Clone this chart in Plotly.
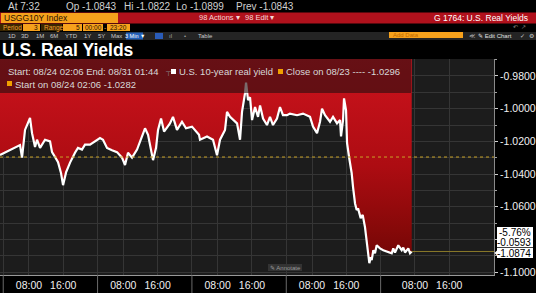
import plotly.graph_objects as go
import pandas as pd

# ---------------- data ----------------
times = [
    "2021-08-23 23:15", "2021-08-24 05:55", "2021-08-24 06:23", "2021-08-24 07:05", "2021-08-24 08:15",
    "2021-08-24 08:43", "2021-08-24 09:25", "2021-08-24 09:53", "2021-08-24 10:35", "2021-08-24 11:45",
    "2021-08-24 12:55", "2021-08-24 13:23", "2021-08-24 14:05", "2021-08-24 14:47", "2021-08-24 15:29",
    "2021-08-24 15:57", "2021-08-24 16:39", "2021-08-24 17:35", "2021-08-24 18:44", "2021-08-24 19:26",
    "2021-08-24 20:22", "2021-08-24 21:04", "2021-08-24 22:14", "2021-08-24 23:24",
    "2021-08-25 02:34", "2021-08-25 03:16", "2021-08-25 04:12", "2021-08-25 05:22", "2021-08-25 06:32",
    "2021-08-25 07:42", "2021-08-25 08:24", "2021-08-25 09:06", "2021-08-25 10:02", "2021-08-25 11:12",
    "2021-08-25 12:22", "2021-08-25 13:04", "2021-08-25 13:46", "2021-08-25 14:28", "2021-08-25 14:56",
    "2021-08-25 15:38", "2021-08-25 16:06", "2021-08-25 16:48", "2021-08-25 17:30", "2021-08-25 18:53",
    "2021-08-25 19:35", "2021-08-25 20:31", "2021-08-25 21:41", "2021-08-25 22:37",
    "2021-08-26 02:01", "2021-08-26 03:39", "2021-08-26 03:53", "2021-08-26 05:31", "2021-08-26 06:55",
    "2021-08-26 07:51", "2021-08-26 08:33", "2021-08-26 09:43", "2021-08-26 10:11", "2021-08-26 10:53",
    "2021-08-26 11:35", "2021-08-26 12:31", "2021-08-26 13:13", "2021-08-26 13:41", "2021-08-26 14:23",
    "2021-08-26 14:37", "2021-08-26 15:05", "2021-08-26 15:33", "2021-08-26 16:01", "2021-08-26 16:43",
    "2021-08-26 17:25", "2021-08-26 17:53", "2021-08-26 18:35", "2021-08-26 19:30", "2021-08-26 20:12",
    "2021-08-26 20:54", "2021-08-26 21:50", "2021-08-26 22:32", "2021-08-26 23:14",
    "2021-08-27 02:10", "2021-08-27 02:52", "2021-08-27 04:30", "2021-08-27 05:54", "2021-08-27 07:32",
    "2021-08-27 08:14", "2021-08-27 09:10", "2021-08-27 09:52", "2021-08-27 10:20", "2021-08-27 11:02",
    "2021-08-27 12:12", "2021-08-27 12:54", "2021-08-27 13:50", "2021-08-27 14:32", "2021-08-27 14:46",
    "2021-08-27 15:14", "2021-08-27 15:28", "2021-08-27 15:56", "2021-08-27 16:10", "2021-08-27 16:38",
    "2021-08-27 17:15", "2021-08-27 17:34", "2021-08-27 18:02", "2021-08-27 18:25", "2021-08-27 18:44",
    "2021-08-27 19:21", "2021-08-27 19:49", "2021-08-27 20:21", "2021-08-27 20:45", "2021-08-27 21:08",
    "2021-08-27 21:22", "2021-08-27 21:41", "2021-08-27 21:55", "2021-08-27 22:18", "2021-08-27 22:41",
    "2021-08-27 23:05", "2021-08-27 23:51",
    "2021-08-29 22:37", "2021-08-29 23:47",
    "2021-08-30 02:35", "2021-08-30 02:57", "2021-08-30 03:21", "2021-08-30 04:07", "2021-08-30 04:31",
    "2021-08-30 04:55", "2021-08-30 05:17", "2021-08-30 05:41", "2021-08-30 06:27", "2021-08-30 06:51",
    "2021-08-30 07:15",
]
yields = [
    -1.0284, -1.0223, -1.0300, -1.0130, -1.0057, -1.0150, -1.0235, -1.0190, -1.0240, -1.0190,
    -1.0200, -1.0266, -1.0296, -1.0327, -1.0395, -1.0468, -1.0390, -1.0330, -1.0270, -1.0240,
    -1.0250, -1.0220, -1.0220, -1.0200,
    -1.0180, -1.0190, -1.0240, -1.0255, -1.0266, -1.0300, -1.0345, -1.0270, -1.0300, -1.0250,
    -1.0170, -1.0120, -1.0160, -1.0250, -1.0315, -1.0240, -1.0130, -1.0060, -1.0140, -1.0090,
    -1.0050, -1.0130, -1.0080, -1.0120,
    -1.0110, -1.0160, -1.0190, -1.0170, -1.0190, -1.0285, -1.0190, -1.0130, -1.0020, -1.0050,
    -1.0070, -1.0090, -1.0190, -1.0020, -0.9905, -0.9840, -0.9947, -0.9930, -1.0070, -0.9990,
    -1.0050, -0.9980, -1.0060, -1.0100, -1.0050, -1.0100, -1.0060, -0.9990, -1.0040,
    -1.0040, -1.0030, -1.0040, -1.0030, -1.0050, -1.0110, -1.0150, -1.0080, -1.0000, -1.0040,
    -1.0080, -1.0050, -1.0090, -1.0070, -1.0170, -1.0070, -0.9937, -1.0010, -1.0210, -1.0296,
    -1.0395, -1.0480, -1.0580, -1.0620, -1.0610, -1.0670, -1.0650, -1.0725, -1.0800, -1.0885,
    -1.0946, -1.0910, -1.0927, -1.0866, -1.0885, -1.0836, -1.0855,
    -1.0866, -1.0880,
    -1.0885, -1.0855, -1.0880, -1.0836, -1.0855, -1.0866, -1.0850, -1.0880, -1.0855, -1.0885,
    -1.0874,
]
close_prev = -1.0296
start_val = -1.0282
last_val = -1.0874
change_pct = "-5.76%"
change_abs = "-0.0593"
y_ticks = [-0.98, -1.00, -1.02, -1.04, -1.06, -1.08, -1.10]
y_minor = [-0.97, -0.99, -1.01, -1.03, -1.05, -1.07, -1.09]
session_starts = ["2021-08-24 02:00", "2021-08-25 02:00", "2021-08-26 02:00",
                  "2021-08-27 02:00", "2021-08-29 22:00"]
# non-trading gaps removed from the time axis
gaps = [["2021-08-24 00:00", "2021-08-24 02:00"], ["2021-08-25 00:00", "2021-08-25 02:00"],
        ["2021-08-26 00:00", "2021-08-26 02:00"], ["2021-08-27 00:00", "2021-08-27 02:00"],
        ["2021-08-28 00:00", "2021-08-29 22:00"], ["2021-08-30 00:00", "2021-08-30 02:00"],
        ["2021-08-31 00:00", "2021-08-31 02:00"]]
hour_ticks = ["2021-08-24 08:00", "2021-08-24 16:00", "2021-08-25 08:00", "2021-08-25 16:00",
              "2021-08-26 08:00", "2021-08-26 16:00", "2021-08-27 08:00", "2021-08-27 16:00",
              "2021-08-30 08:00", "2021-08-30 16:00"]
hour_labels = ["08:00", "16:00"] * 5
day_labels = ["24 Aug 2021", "25 Aug 2021", "26 Aug 2021", "27 Aug 2021", "30 Aug 2021"]
day_label_at = ["2021-08-24 13:00", "2021-08-25 13:00", "2021-08-26 13:00",
                "2021-08-27 13:00", "2021-08-30 12:00"]
x_start, x_end = "2021-08-23 23:15", "2021-08-31 04:26"
y_range = [-1.1018, -0.9696]

# ---------------- geometry helpers ----------------
W, H = 536, 293
ML, MR, MT, MB = 0, 42, 59, 18
PW, PH = W - ML - MR, H - MT - MB


def px(x):
    return (x - ML) / PW


def py(y):
    return (H - MB - y) / PH


FONT = "Liberation Sans, Arial, sans-serif"

t = pd.to_datetime(times)

fig = go.Figure()
fig.add_trace(go.Scatter(
    x=t, y=yields, mode="lines", line=dict(width=0, color="rgba(0,0,0,0)"),
    fill="tozeroy",
    fillgradient=dict(type="vertical", start=-1.10, stop=-0.97,
                      colorscale=[[0, "#6a0505"], [0.2, "#860909"], [0.5, "#ad0c12"], [1, "#cc131d"]]),
    hoverinfo="skip", showlegend=False))
fig.add_trace(go.Scatter(
    x=t, y=yields, mode="lines", line=dict(width=2.2, color="#ffffff"),
    hoverinfo="skip", showlegend=False))

shapes = []
annotations = []


def rect(x0, y0, x1, y1, color, layer="above"):
    shapes.append(dict(type="rect", xref="paper", yref="paper", x0=px(x0), x1=px(x1),
                       y0=py(y1), y1=py(y0), fillcolor=color, line=dict(width=0), layer=layer))


def txt(x, y, s, size=9.5, color="#d8d8d8", anchor="left", family=FONT):
    annotations.append(dict(xref="paper", yref="paper", x=px(x), y=py(y), text=s,
                            showarrow=False, xanchor=anchor, yanchor="middle",
                            font=dict(size=size, color=color, family=family), borderpad=0))


# close line and last value line
shapes.append(dict(type="line", xref="paper", yref="y", x0=0, x1=1, y0=close_prev, y1=close_prev,
                   line=dict(color="#c9a227", width=1, dash="dot"), layer="above"))
shapes.append(dict(type="line", xref="x", yref="y", x0=t[-1], x1=pd.Timestamp(x_end),
                   y0=last_val, y1=last_val, line=dict(color="#8a7a2a", width=1), layer="above"))
# session separators below axis
for s in session_starts:
    shapes.append(dict(type="line", xref="x", yref="paper", x0=s, x1=s, y0=0, y1=py(293),
                       line=dict(color="#6a6a6a", width=1), layer="above"))

# legend box
rect(0, 59, 411, 93, "rgba(40,14,16,0.62)")
txt(7, 71.5, "Start: 08/24 02:06 End: 08/31 01:44", 9.5)
txt(164, 71.5, "┬", 7, "#888888")
rect(171, 69, 176, 74, "#ffffff")
txt(178, 71.5, "U.S. 10-year real yield", 9.5)
rect(278, 69, 283, 74, "#f0a000")
txt(285, 71.5, "Close on 08/23 ---- %.4f" % close_prev, 9.5)
rect(7, 81, 12, 86, "#f0a000")
txt(14, 84, "Start on 08/24 02:06 %.4f" % start_val, 9.5)

# value boxes on the right
rect(497, 227, 533, 247.3, "#ffffff")
rect(497, 248, 533, 258, "#ffffff")
shapes.append(dict(type="path", xref="paper", yref="paper",
                   path="M %f,%f L %f,%f L %f,%f Z" % (px(494.5), py(253), px(497.5), py(250),
                                                       px(497.5), py(256)),
                   fillcolor="#ffffff", line=dict(width=0)))
txt(532, 232, change_pct, 10, "#000000", "right")
txt(532, 242.3, change_abs, 10, "#000000", "right")
txt(532, 253, "%.4f" % last_val, 10, "#000000", "right")

# annotate button
rect(268, 264, 302, 271, "#333333")
txt(285, 267.5, "✎ Annotate", 6, "#9a9a9a", "center")

# day labels (cut off at bottom, as in the source)
for lab, at in zip(day_labels, day_label_at):
    annotations.append(dict(xref="x", yref="paper", x=at, y=py(289.5), text=lab, showarrow=False,
                            xanchor="center", yanchor="top",
                            font=dict(size=10.5, color="#f0f0f0", family=FONT), borderpad=0))

# ---------------- header ----------------
txt(7, 6.5, "At 7:32", 10, "#d0d0d0")
txt(65, 6.5, "Op -1.0843", 10, "#d0d0d0")
txt(123, 6.5, "Hi -1.0822", 10, "#d0d0d0")
txt(175, 6.5, "Lo -1.0899", 10, "#d0d0d0")
txt(235, 6.5, "Prev -1.0843", 10, "#d0d0d0")

rect(0, 12.5, 536, 23.5, "#b0111c")
rect(1, 13, 118, 23, "#f6a11c")
txt(3, 18, "USGG10Y Index", 8.5, "#2a1200")
txt(198, 18, "98 Actions ▾", 7.5, "#f6d6d6")
txt(244, 18, "98 Edit ▾", 7.5, "#f6d6d6")
txt(529, 18, "G 1764: U.S. Real Yields", 8.5, "#ffffff", "right")

rect(0, 24, 22, 31, "#3a2600")
txt(1.5, 27.5, "Period", 6.5, "#f0a030")
rect(23, 24, 40, 31, "#f6a11c")
txt(39, 27.5, "3", 6.5, "#2a1200", "right")
rect(41, 24, 62, 31, "#3a2600")
txt(42.5, 27.5, "Range", 6.5, "#f0a030")
rect(63, 24, 82, 31, "#f6a11c")
txt(81, 27.5, "5", 6.5, "#2a1200", "right")
rect(83, 24, 103, 31, "#f6a11c")
txt(93, 27.5, "00:00", 6.5, "#2a1200", "center")
txt(105, 27.5, "-", 6.5, "#f0a030", "center")
rect(107, 24, 130, 31, "#f6a11c")
txt(118.5, 27.5, "23:20", 6.5, "#2a1200", "center")
txt(519, 27, "↶  ↗", 6, "#8a8a8a", "center")

rect(0, 32, 536, 40, "#242424")
for lab, xx in [("1D", 7), ("3D", 20), ("1M", 35), ("6M", 49), ("YTD", 64), ("1Y", 83), ("5Y", 97),
                ("Max", 110)]:
    txt(xx, 36, lab, 6, "#c8c8c8")
rect(126, 32.5, 143, 39.5, "#2360b8")
txt(134.5, 36, "3 Min ▼", 5.5, "#ffffff", "center")
rect(155, 33, 163, 39, "#2a5cb8")
txt(168, 36, "ıl", 6, "#a0a0a0")
txt(183, 36, "•", 6, "#a0a0a0")
txt(197, 36, "Table", 6, "#c8c8c8")
rect(389, 32, 463, 38, "#f6a11c")
txt(392, 35, "Add Data", 6, "#c06a00")
txt(468, 36, "≪", 6, "#c8c8c8")
txt(477, 36, "✎ Edit Chart", 6, "#e0e0e0")
txt(519, 36, "✓", 6, "#c8c8c8")
txt(528, 36, "⚙", 6, "#c8c8c8")

annotations.append(dict(xref="paper", yref="paper", x=px(1), y=py(49.5), text="<b>U.S. Real Yields</b>",
                        showarrow=False, xanchor="left", yanchor="middle",
                        font=dict(size=17.5, color="#ffffff", family=FONT), borderpad=0))

fig.update_layout(
    width=W, height=H, margin=dict(l=ML, r=MR, t=MT, b=MB, pad=0),
    paper_bgcolor="#000000", plot_bgcolor="#1c1c1c",
    showlegend=False, hovermode=False,
    shapes=shapes, annotations=annotations,
    xaxis=dict(
        type="date", range=[x_start, x_end],
        rangebreaks=[dict(bounds=g) for g in gaps],
        tickmode="array", tickvals=session_starts + hour_ticks,
        ticktext=[""] * len(session_starts) + hour_labels,
        tickfont=dict(size=10.5, color="#f0f0f0", family=FONT),
        showgrid=True, gridcolor="#353535", gridwidth=1,
        showline=True, linecolor="#9a9a9a", linewidth=1, ticks="", zeroline=False,
    ),
    yaxis=dict(
        side="right", range=y_range, tickmode="array", tickvals=y_ticks,
        ticktext=["" if abs(v + 1.08) < 1e-9 else "%.4f" % v for v in y_ticks],
        tickfont=dict(size=10.5, color="#f0f0f0", family=FONT),
        ticks="outside", ticklen=3, tickcolor="#d0d0d0",
        showgrid=True, gridcolor="#353535", gridwidth=1,
        minor=dict(tickmode="array", tickvals=y_minor, showgrid=True, gridcolor="#353535",
                   ticks="outside", ticklen=2, tickcolor="#a0a0a0"),
        showline=True, linecolor="#8a8a8a", linewidth=1, zeroline=False,
    ),
)

fig.write_html("out.html")
